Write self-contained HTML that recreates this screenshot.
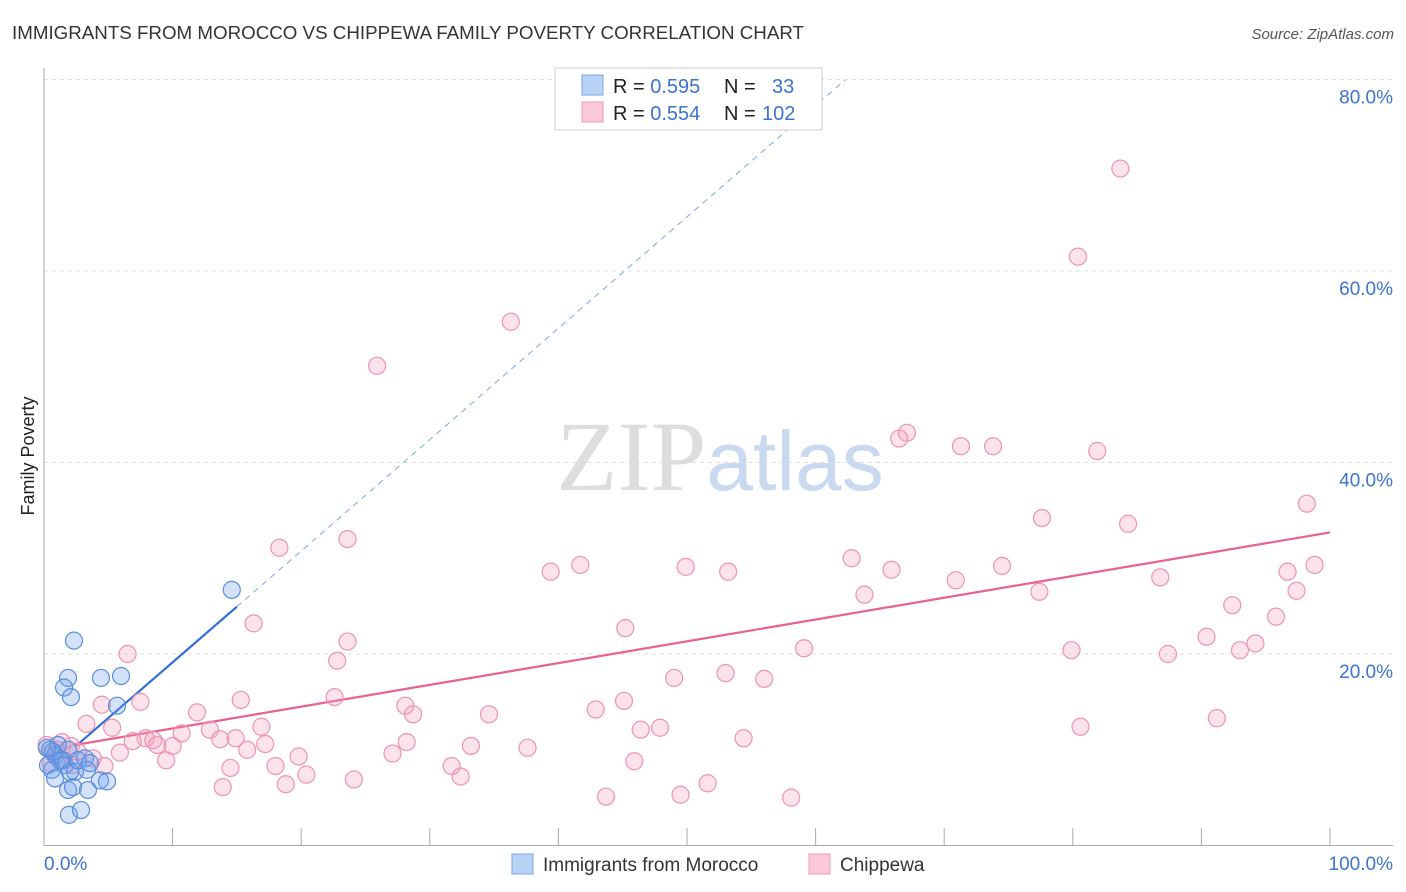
<!DOCTYPE html>
<html><head><meta charset="utf-8"><style>
body{margin:0;background:#fff;font-family:"Liberation Sans",sans-serif}
svg{display:block}
</style></head><body>
<svg id="chart" width="1406" height="892" xmlns="http://www.w3.org/2000/svg" font-family="Liberation Sans, sans-serif">
<text x="12" y="39" font-size="18" fill="#333" textLength="792" lengthAdjust="spacingAndGlyphs">IMMIGRANTS FROM MOROCCO VS CHIPPEWA FAMILY POVERTY CORRELATION CHART</text>
<text x="1394" y="39" font-size="15" fill="#555" text-anchor="end" font-style="italic">Source: ZipAtlas.com</text>
<text x="720" y="490" font-size="100" text-anchor="middle" fill="#ddd" font-family="Liberation Serif, serif">ZIP<tspan fill="#c9d9f0" font-family="Liberation Sans, sans-serif" font-size="84">atlas</tspan></text>
<text transform="translate(34,456) rotate(-90)" font-size="18" fill="#222" text-anchor="middle">Family Poverty</text>
<g id="grid"></g><g id="axes"></g><g id="trends"></g><g id="pts"></g>
<g>
<rect x="555" y="68" width="267" height="62" fill="#fff" stroke="#ccc"/>
<rect x="582" y="75" width="21" height="20" fill="#b8d2f5" stroke="#7ea6e0"/>
<rect x="582" y="102" width="21" height="20" fill="#fbc9d8" stroke="#ef9ab5"/>
<text x="613" y="93" font-size="20" fill="#222">R = <tspan fill="#3b73d1">0.595</tspan><tspan x="724">N = </tspan><tspan x="772" fill="#3b73d1">33</tspan></text>
<text x="613" y="120" font-size="20" fill="#222">R = <tspan fill="#3b73d1">0.554</tspan><tspan x="724">N = </tspan><tspan x="762" fill="#3b73d1">102</tspan></text>
</g>
<g>
<rect x="512" y="854" width="21" height="20" fill="#b8d2f5" stroke="#7ea6e0"/>
<text x="543" y="871" font-size="19" fill="#333">Immigrants from Morocco</text>
<rect x="809" y="854" width="21" height="20" fill="#fbc9d8" stroke="#ef9ab5"/>
<text x="840" y="871" font-size="19" fill="#333">Chippewa</text>
</g>
</svg>
<script>
const yTicks=[20,40,60,80];
const yTickLabels=["20.0%","40.0%","60.0%","80.0%"];
const xTickLabels=["0.0%","100.0%"];
const moroccoX=[2.33,1.87,1.56,2.10,4.43,5.99,5.68,14.6,0.47,0.86,1.24,0.31,0.62,1.09,1.63,1.87,3.19,3.34,2.41,4.35,4.90,1.87,2.26,3.42,1.94,2.88,1.40,2.02,0.70,2.64,3.58,0.86,0.23];
const moroccoY=[21.4,17.5,16.5,15.5,17.5,17.7,14.6,26.7,10.0,9.4,8.9,8.4,7.9,10.5,8.4,10.0,9.1,7.9,7.7,6.8,6.7,5.8,6.1,5.8,3.2,3.7,8.9,7.7,9.8,8.9,8.6,7.0,10.2];
const chipX=[83.7,80.4,36.3,25.9,67.1,66.5,71.3,73.8,81.9,98.2,77.6,84.3,18.3,23.6,62.8,39.4,41.7,49.9,53.2,65.9,70.9,74.5,86.8,96.7,98.8,63.8,77.4,97.4,92.4,16.3,45.2,95.8,23.6,90.4,6.5,94.2,22.8,59.1,79.9,87.4,93.0,49.0,53.0,56.0,15.3,22.6,7.5,4.5,28.1,45.1,42.9,28.7,11.9,34.6,91.2,3.3,5.3,16.9,80.6,46.4,47.9,12.9,10.7,7.9,8.5,6.9,14.9,13.7,10.0,17.2,8.8,5.9,28.2,54.4,33.2,37.6,15.8,3.8,19.8,9.5,27.1,14.5,4.7,31.7,45.9,20.4,18.0,32.4,24.1,18.8,13.9,43.7,49.5,51.6,58.1,2.1,1.5,1.0,2.6,0.2,1.4,0.5,2.2];
const chipY=[70.7,61.5,54.7,50.1,43.1,42.5,41.7,41.7,41.2,35.7,34.2,33.6,31.1,32.0,30.0,28.6,29.3,29.1,28.6,28.8,27.7,29.2,28.0,28.6,29.3,26.2,26.5,26.6,25.1,23.2,22.7,23.9,21.3,21.8,20.0,21.1,19.3,20.6,20.4,20.0,20.4,17.5,18.0,17.4,15.2,15.5,15.0,14.7,14.6,15.1,14.2,13.7,13.9,13.7,13.3,12.7,12.3,12.4,12.4,12.1,12.3,12.1,11.7,11.2,11.0,10.9,11.2,11.1,10.4,10.6,10.5,9.7,10.8,11.2,10.4,10.2,10.0,9.1,9.3,8.9,9.6,8.1,8.3,8.3,8.8,7.4,8.3,7.2,6.9,6.4,6.1,5.1,5.3,6.5,5.0,10.4,8.9,10.0,9.8,10.5,10.8,8.6,8.4];
const moroccoTrend=[7.5,1.163];
const chipTrend=[9.95,0.2275];
const NS="http://www.w3.org/2000/svg";
const sx=v=>44+v*12.86, sy=v=>845.5-v*9.575;
function mk(tag,attrs,parent){const e=document.createElementNS(NS,tag);for(const k in attrs)e.setAttribute(k,attrs[k]);document.getElementById(parent).appendChild(e);return e;}
yTicks.forEach((t,i)=>{
  const g=mk('line',{x1:44,x2:1393,y1:sy(t),y2:sy(t),stroke:'#ddd','stroke-dasharray':'4,4'},'grid');
  
  
  const l=mk('text',{x:1393,y:sy(t)+24,'font-size':19,fill:'#3b73d1','text-anchor':'end'},'axes');
  l.textContent=yTickLabels[i];
  
  
});
const ya=mk('line',{x1:44,x2:44,y1:68,y2:846,stroke:'#aaa'},'axes');


const xa=mk('line',{x1:44,x2:1393,y1:845.5,y2:845.5,stroke:'#aaa'},'axes');


for(let i=0;i<=10;i++){
  const t=mk('line',{x1:sx(i*10),x2:sx(i*10),y1:828,y2:846,stroke:'#aaa'},'axes');
  
  
}
[[0,44,'start'],[100,1393,'end']].forEach((d,i)=>{
  const l=mk('text',{x:d[1],y:870,'font-size':19,fill:'#3b73d1','text-anchor':d[2]},'axes');
  l.textContent=xTickLabels[i];
  
  
});
function pts(xs,ys,fill,stroke,name){xs.forEach((x,i)=>{
  const c=mk('circle',{cx:sx(x),cy:sy(ys[i]),r:8.5,fill:fill,stroke:stroke,'stroke-width':1.2},'pts');
  
  
});}
pts(chipX,chipY,'rgba(244,160,190,0.3)','#ec94b2','chippewa-point');
pts(moroccoX,moroccoY,'rgba(110,160,235,0.3)','#5b8fdc','morocco-point');
const f=(tr,x)=>tr[0]+tr[1]*x;
const d1=mk('line',{x1:sx(15),y1:sy(f(moroccoTrend,15)),x2:sx(62.3),y2:sy(f(moroccoTrend,62.3)),stroke:'#7ea6e0','stroke-dasharray':'6,5','stroke-width':1},'trends');


const t1=mk('line',{x1:sx(2.4),y1:sy(f(moroccoTrend,2.4)),x2:sx(15),y2:sy(f(moroccoTrend,15)),stroke:'#2f6fd6','stroke-width':2.2},'trends');


const t2=mk('line',{x1:sx(2.4),y1:sy(f(chipTrend,2.4)),x2:sx(100),y2:sy(f(chipTrend,100)),stroke:'#e8618f','stroke-width':2.2},'trends');


</script>
</body></html>
